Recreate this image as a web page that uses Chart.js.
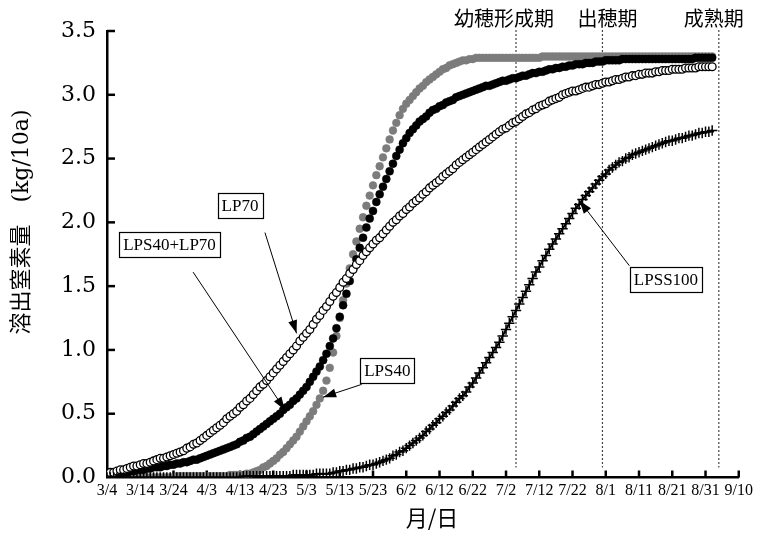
<!DOCTYPE html>
<html><head><meta charset="utf-8">
<script src="https://cdn.jsdelivr.net/npm/chart.js@4.4.1/dist/chart.umd.min.js"></script>
<style>html,body{margin:0;padding:0;background:#fff}#wrap{width:757px;height:535px;position:relative}</style>
</head><body><div id="wrap"><canvas id="c" width="757" height="535"></canvas></div>
<script>
// x tick labels, every 10 days from 3/4 (day 0) to 9/10 (day 190)
const tickLabels = ['3/4','3/14','3/24','4/3','4/13','4/23','5/3','5/13','5/23','6/2','6/12','6/22','7/2','7/12','7/22','8/1','8/11','8/21','8/31','9/10'];

// daily values (kg/10a), day 0 = 3/4
const lp70 = [
 .03,.04,.04,.05,.06,.06,.07,.08,.09,.09,.10,
 .11,.11,.12,.13,.14,.15,.15,.16,.17,.18,
 .19,.20,.21,.23,.24,.26,.27,.29,.31,.33,
 .35,.37,.39,.41,.43,.46,.48,.50,.52,.55,
 .57,.60,.62,.65,.68,.71,.73,.76,.79,.82,
 .85,.88,.91,.94,.97,1.00,1.03,1.07,1.10,1.13,
 1.16,1.20,1.24,1.27,1.31,1.34,1.38,1.42,1.45,1.49,
 1.53,1.56,1.60,1.63,1.67,1.70,1.74,1.77,1.80,1.83,
 1.86,1.88,1.91,1.94,1.97,2.00,2.02,2.05,2.07,2.10,
 2.12,2.15,2.17,2.19,2.22,2.24,2.27,2.29,2.31,2.33,
 2.36,2.38,2.40,2.42,2.45,2.47,2.49,2.51,2.53,2.55,
 2.57,2.59,2.61,2.63,2.65,2.67,2.69,2.71,2.73,2.74,
 2.76,2.78,2.79,2.81,2.83,2.85,2.86,2.88,2.89,2.91,
 2.92,2.93,2.95,2.96,2.97,2.98,3.00,3.01,3.02,3.03,
 3.03,3.04,3.05,3.06,3.06,3.07,3.08,3.08,3.09,3.10,
 3.10,3.11,3.12,3.12,3.13,3.14,3.14,3.15,3.15,3.16,
 3.16,3.17,3.17,3.17,3.18,3.18,3.19,3.19,3.19,3.20,
 3.20,3.20,3.20,3.21,3.21,3.21,3.21,3.22,3.22,3.22,3.22,3.22
];
const lps40lp70 = [
 .02,.02,.03,.03,.03,.04,.04,.05,.05,.06,.06,
 .06,.07,.07,.08,.08,.08,.09,.09,.10,.10,
 .11,.11,.12,.12,.13,.14,.14,.15,.16,.17,
 .18,.19,.20,.21,.22,.23,.24,.25,.26,.28,
 .29,.31,.32,.34,.36,.38,.40,.42,.44,.46,
 .48,.50,.53,.55,.57,.60,.62,.65,.68,.71,
 .75,.79,.83,.87,.92,.97,1.03,1.09,1.17,1.26,
 1.35,1.44,1.54,1.63,1.71,1.80,1.88,1.96,2.03,2.09,
 2.16,2.22,2.28,2.34,2.40,2.46,2.52,2.57,2.62,2.66,
 2.70,2.73,2.76,2.79,2.81,2.83,2.86,2.88,2.89,2.91,
 2.92,2.94,2.95,2.96,2.98,2.99,3.00,3.01,3.02,3.03,
 3.04,3.05,3.06,3.07,3.07,3.08,3.09,3.10,3.11,3.11,
 3.12,3.13,3.13,3.14,3.15,3.15,3.16,3.17,3.17,3.18,
 3.18,3.19,3.20,3.20,3.21,3.21,3.22,3.22,3.23,3.23,
 3.24,3.24,3.24,3.25,3.25,3.25,3.26,3.26,3.26,3.27,
 3.27,3.27,3.27,3.27,3.28,3.28,3.28,3.28,3.28,3.28,
 3.28,3.28,3.28,3.28,3.28,3.28,3.28,3.28,3.28,3.28,
 3.28,3.28,3.28,3.28,3.28,3.28,3.29,3.29,3.29,3.29,3.29,3.29
];
const lps40 = [
 0,0,0,0,0,0,0,0,0,0,0,
 0,0,0,0,0,0,0,0,0,0,
 .01,.01,.01,.01,.01,.01,.01,.01,.01,.01,
 .01,.01,.01,.01,.01,.01,.02,.02,.02,.02,
 .02,.03,.03,.04,.05,.06,.08,.09,.11,.13,
 .15,.18,.20,.23,.26,.29,.32,.36,.40,.44,
 .48,.52,.57,.62,.68,.76,.86,.98,1.11,1.25,
 1.39,1.52,1.64,1.75,1.85,1.95,2.04,2.13,2.21,2.29,
 2.37,2.44,2.51,2.58,2.65,2.72,2.78,2.84,2.89,2.93,
 2.96,2.99,3.02,3.05,3.07,3.10,3.12,3.14,3.16,3.18,
 3.20,3.21,3.23,3.24,3.25,3.26,3.27,3.27,3.28,3.28,
 3.29,3.29,3.29,3.29,3.29,3.29,3.29,3.29,3.29,3.29,
 3.29,3.29,3.29,3.29,3.29,3.29,3.29,3.29,3.29,3.29,
 3.30,3.30,3.30,3.30,3.30,3.30,3.30,3.30,3.30,3.30,
 3.30,3.30,3.30,3.30,3.30,3.30,3.30,3.30,3.30,3.30,
 3.30,3.30,3.30,3.30,3.30,3.30,3.30,3.30,3.30,3.30,
 3.30,3.30,3.30,3.30,3.30,3.30,3.30,3.30,3.30,3.30,
 3.30,3.30,3.30,3.30,3.30,3.30,3.30,3.30,3.30,3.30,3.30,3.30
];
const lpss100 = [
 0,0,0,0,0,0,0,0,0,0,0,
 0,0,0,0,0,0,0,0,0,0,
 0,0,0,0,0,0,0,0,0,0,
 0,0,0,0,0,0,0,0,0,0,
 .01,.01,.01,.01,.01,.01,.01,.01,.01,.01,
 .01,.01,.01,.01,.01,.02,.02,.02,.02,.02,
 .02,.02,.03,.03,.03,.03,.03,.04,.04,.05,
 .05,.06,.06,.07,.07,.08,.08,.09,.10,.10,
 .11,.12,.13,.14,.15,.17,.18,.20,.21,.23,
 .25,.27,.29,.31,.33,.36,.38,.41,.43,.46,
 .48,.51,.53,.56,.59,.62,.64,.67,.71,.74,
 .78,.82,.86,.90,.94,.98,1.02,1.06,1.11,1.16,
 1.21,1.26,1.31,1.36,1.41,1.46,1.51,1.56,1.61,1.65,
 1.70,1.74,1.79,1.83,1.87,1.91,1.95,1.99,2.03,2.07,
 2.11,2.14,2.18,2.21,2.24,2.27,2.30,2.33,2.36,2.38,
 2.41,2.43,2.45,2.47,2.48,2.50,2.51,2.53,2.54,2.55,
 2.56,2.57,2.58,2.59,2.60,2.61,2.62,2.63,2.64,2.64,
 2.65,2.66,2.66,2.67,2.68,2.68,2.69,2.70,2.70,2.71,2.71,2.72
];

// growth stages (day index) and names
const phaseDays = [123, 149, 184];
const phaseNames = ['幼穂形成期', '出穂期', '成熟期'];

// callout labels: box centre, arrow start, arrow tip in data units (day, kg/10a)
const callouts = [
  {text:'LP70',        box:[40.0, 2.13],  from:[47.5, 1.92],  to:[57.0, 1.13]},
  {text:'LPS40+LP70',  box:[18.8, 1.83],  from:[25.9, 1.61],  to:[53.5, 0.53]},
  {text:'LPS40',       box:[84.3, 0.84],  from:[76.6, 0.73],  to:[65.0, 0.63]},
  {text:'LPSS100',     box:[168.1, 1.55], from:[157.1, 1.66], to:[142.1, 2.17]}
];

const toXY = arr => arr.map((v, i) => ({x: i, y: v}));

function arrow(ctx, x1, y1, x2, y2) {
  ctx.beginPath(); ctx.moveTo(x1, y1); ctx.lineTo(x2, y2); ctx.stroke();
  const ang = Math.atan2(y2 - y1, x2 - x1), L = 13, W = 4.5;
  const bx = x2 - L * Math.cos(ang), by = y2 - L * Math.sin(ang);
  ctx.beginPath();
  ctx.moveTo(x2, y2);
  ctx.lineTo(bx + W * Math.sin(ang), by - W * Math.cos(ang));
  ctx.lineTo(bx - W * Math.sin(ang), by + W * Math.cos(ang));
  ctx.closePath(); ctx.fill();
}

const decor = {
  id: 'decor',
  beforeDatasetsDraw(chart) {
    const {ctx, scales: {x, y}, chartArea: a} = chart;
    ctx.save();
    ctx.strokeStyle = '#000'; ctx.lineWidth = 2.5;
    y.ticks.forEach(t => {
      if (t.value === 0) return;
      const py = y.getPixelForValue(t.value);
      ctx.beginPath(); ctx.moveTo(a.left, py); ctx.lineTo(a.left + 8, py); ctx.stroke();
    });
    x.ticks.forEach(t => {
      if (t.value === 0) return;
      const px = x.getPixelForValue(t.value);
      ctx.beginPath(); ctx.moveTo(px, a.bottom); ctx.lineTo(px, a.bottom - 7); ctx.stroke();
    });
    ctx.lineWidth = 1.2; ctx.strokeStyle = '#444'; ctx.setLineDash([2, 2]);
    phaseDays.forEach(d => {
      const px = x.getPixelForValue(d);
      ctx.beginPath(); ctx.moveTo(px, a.top - 1); ctx.lineTo(px, a.bottom - 10); ctx.stroke();
    });
    ctx.restore();
  },
  afterDraw(chart) {
    const {ctx, scales: {x, y}, chartArea: a} = chart;
    ctx.save();
    ctx.fillStyle = '#000';
    // stage names
    ctx.font = "20px 'Noto Sans CJK JP'";
    ctx.textAlign = 'center'; ctx.textBaseline = 'middle';
    const shift = [-12, 5, -5];
    phaseDays.forEach((d, i) => ctx.fillText(phaseNames[i], x.getPixelForValue(d) + shift[i], 18));
    // callouts
    ctx.lineWidth = 1; ctx.strokeStyle = '#000';
    callouts.forEach(c => {
      arrow(ctx, x.getPixelForValue(c.from[0]), y.getPixelForValue(c.from[1]),
                 x.getPixelForValue(c.to[0]), y.getPixelForValue(c.to[1]));
    });
    ctx.font = "17px 'Liberation Serif'";
    callouts.forEach(c => {
      const cx = x.getPixelForValue(c.box[0]), cy = y.getPixelForValue(c.box[1]);
      const w = ctx.measureText(c.text).width + 8, h = 25;
      ctx.fillStyle = '#fff';
      ctx.fillRect(cx - w / 2, cy - h / 2, w, h);
      ctx.lineWidth = 1.2;
      ctx.strokeRect(Math.round(cx - w / 2) + 0.5, Math.round(cy - h / 2) + 0.5, Math.round(w), h);
      ctx.fillStyle = '#000';
      ctx.fillText(c.text, cx, cy + 1);
    });
    // axis titles
    ctx.font = "22px 'Noto Sans CJK JP'";
    ctx.fillText('月/日', 432, 518);
    ctx.translate(22, 222);
    ctx.rotate(-Math.PI / 2);
    ctx.font = "22px 'DejaVu Serif', 'Noto Sans CJK JP'";
    ctx.fillText('溶出窒素量　(kg/10a)', 0, 0);
    ctx.restore();
  }
};

new Chart(document.getElementById('c'), {
  type: 'scatter',
  data: {
    datasets: [
      {label: 'LPSS100', data: toXY(lpss100), showLine: true, borderColor: '#000', borderWidth: 2,
       pointStyle: 'cross', pointRadius: 5.2, pointBorderWidth: 1.5, pointBorderColor: '#000', order: 1},
      {label: 'LP70', data: toXY(lp70), showLine: false, pointStyle: 'circle', pointRadius: 3.9,
       pointBorderWidth: 1.3, pointBorderColor: '#000', pointBackgroundColor: '#fff', order: 2},
      {label: 'LPS40+LP70', data: toXY(lps40lp70), showLine: false, pointStyle: 'circle', pointRadius: 4,
       pointBorderWidth: 0.5, pointBorderColor: '#000', pointBackgroundColor: '#000', order: 3},
      {label: 'LPS40', data: toXY(lps40), showLine: false, pointStyle: 'circle', pointRadius: 3.9,
       pointBorderWidth: 0.5, pointBorderColor: '#7c7c7c', pointBackgroundColor: '#7c7c7c', order: 4}
    ]
  },
  options: {
    responsive: false, animation: false, devicePixelRatio: 1,
    layout: {padding: {top: 31, right: 18, left: 0, bottom: 0}},
    plugins: {legend: {display: false}, tooltip: {enabled: false}},
    scales: {
      x: {
        type: 'linear', min: 0, max: 190,
        afterBuildTicks: s => { s.ticks = tickLabels.map((_, i) => ({value: i * 10})); },
        afterFit: s => { s.height = 57.5; },
        ticks: {callback: v => tickLabels[Math.round(v / 10)], font: {family: 'Liberation Serif', size: 16},
                color: '#000', maxRotation: 0, autoSkip: false, padding: 4},
        grid: {display: true, color: 'rgba(0,0,0,0)', drawTicks: false},
        border: {display: true, color: '#000', width: 2.5}
      },
      y: {
        min: 0, max: 3.5,
        afterFit: s => { s.width = 107; },
        ticks: {stepSize: 0.5, callback: v => Number(v).toFixed(1), font: {family: 'DejaVu Serif', size: 22},
                color: '#000', padding: 11},
        grid: {display: true, color: 'rgba(0,0,0,0)', drawTicks: false},
        border: {display: true, color: '#000', width: 2.5}
      }
    }
  },
  plugins: [decor]
});
</script>
</body></html>
